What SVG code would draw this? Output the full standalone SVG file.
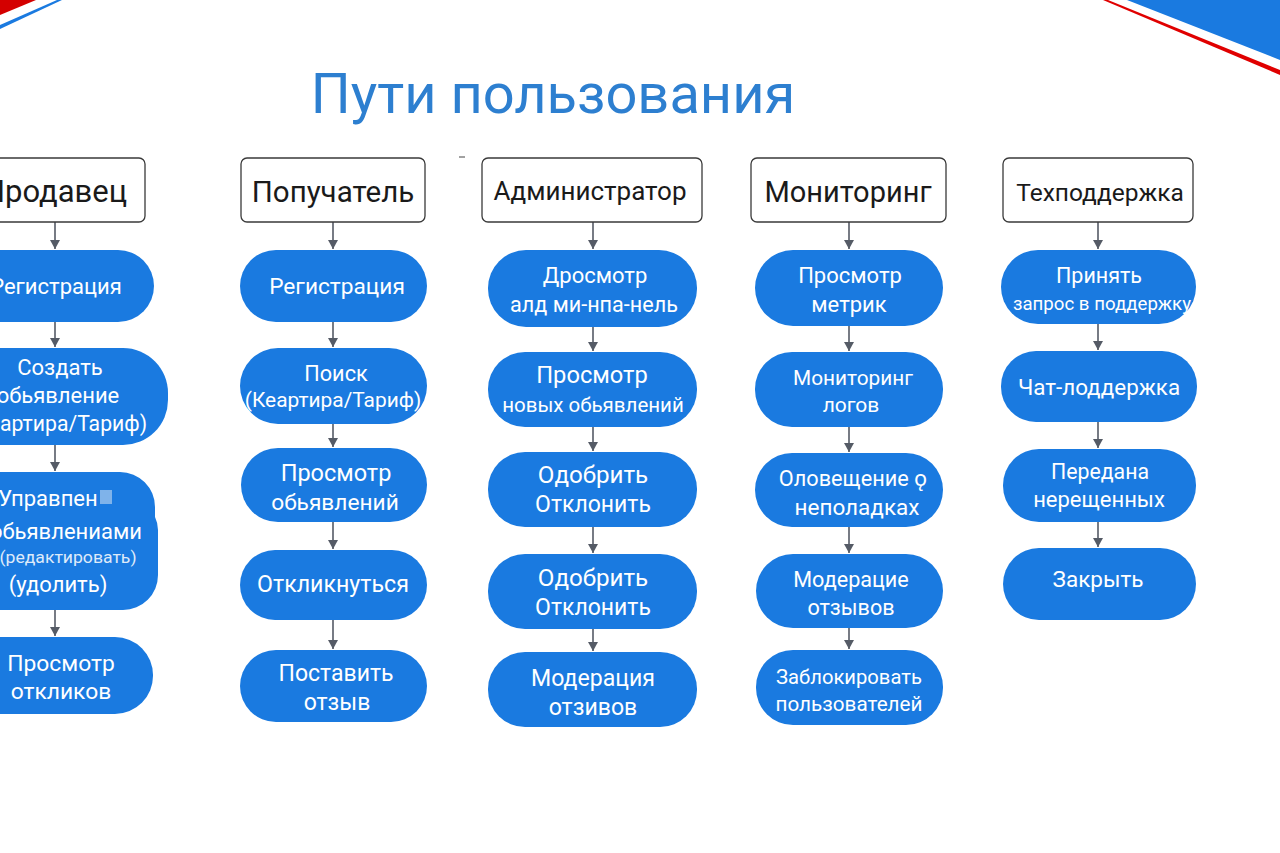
<svg xmlns="http://www.w3.org/2000/svg" width="1280" height="853" viewBox="0 0 1280 853">
<defs>
<marker id="ah" markerWidth="10" markerHeight="10" refX="9" refY="5" orient="auto" markerUnits="userSpaceOnUse">
<path d="M0,0 L9,5 L0,10 Z" fill="#555b66"/>
</marker>
<style>
.hdr{fill:#fff;stroke:#3a3a3a;stroke-width:1.3}
.ht{font-family:Roboto,"Noto Sans","Liberation Sans",sans-serif;fill:#1a1a1a;text-anchor:middle}
.nd{fill:#1a7ae0}
.nt{font-family:Roboto,"Noto Sans","Liberation Sans",sans-serif;fill:#fff;text-anchor:middle}
.cn line{stroke:#555b66;stroke-width:1.6;marker-end:url(#ah)}
</style>
</defs>
<rect width="1280" height="853" fill="#fff"/>
<!-- corner decorations -->
<polygon points="0,0 36,0 0,15" fill="#d40000"/>
<polygon points="57,0 62,0 0,29 0,25" fill="#1a7ae0"/>
<polygon points="1127,0 1280,0 1280,60" fill="#1a7ae0"/>
<polygon points="1103,0 1108,0 1280,70 1280,75" fill="#e00000"/>
<text x="553" y="113" font-family="Roboto,'Noto Sans','Liberation Sans',sans-serif" font-size="56" fill="#2d7fd0" text-anchor="middle">Пути пользования</text>
<line x1="459" y1="157" x2="465" y2="157" stroke="#444" stroke-width="1"/>

<g class="cn">
<line x1="55" y1="222" x2="55" y2="249"/>
<line x1="55" y1="322" x2="55" y2="347"/>
<line x1="55" y1="445" x2="55" y2="471"/>
<line x1="55" y1="610" x2="55" y2="636"/>
<line x1="333" y1="222" x2="333" y2="249"/>
<line x1="333" y1="322" x2="333" y2="347"/>
<line x1="333" y1="424" x2="333" y2="447"/>
<line x1="333" y1="522" x2="333" y2="549"/>
<line x1="333" y1="620" x2="333" y2="649"/>
<line x1="593" y1="222" x2="593" y2="249"/>
<line x1="593" y1="327" x2="593" y2="351"/>
<line x1="593" y1="427" x2="593" y2="451"/>
<line x1="593" y1="527" x2="593" y2="553"/>
<line x1="593" y1="629" x2="593" y2="651"/>
<line x1="849" y1="222" x2="849" y2="249"/>
<line x1="849" y1="326" x2="849" y2="351"/>
<line x1="849" y1="427" x2="849" y2="452"/>
<line x1="849" y1="527" x2="849" y2="553"/>
<line x1="849" y1="628" x2="849" y2="649"/>
<line x1="1098" y1="222" x2="1098" y2="249"/>
<line x1="1098" y1="324" x2="1098" y2="350"/>
<line x1="1098" y1="422" x2="1098" y2="448"/>
<line x1="1098" y1="522" x2="1098" y2="547"/>
</g>

<!-- headers -->
<g id="h-seller"><rect class="hdr" x="-40" y="158" width="185" height="64" rx="6"/><text class="ht" x="55" y="202" font-size="31">Продавец</text></g>
<g id="h-buyer"><rect class="hdr" x="241" y="158" width="184" height="64" rx="6"/><text class="ht" x="333" y="202" font-size="29.5">Попучатель</text></g>
<g id="h-admin"><rect class="hdr" x="482" y="158" width="220" height="64" rx="6"/><text class="ht" x="590" y="200" font-size="26">Администратор</text></g>
<g id="h-mon"><rect class="hdr" x="751" y="158" width="195" height="64" rx="6"/><text class="ht" x="848" y="202" font-size="29">Мониторинг</text></g>
<g id="h-sup"><rect class="hdr" x="1003" y="158" width="190" height="64" rx="6"/><text class="ht" x="1100" y="201" font-size="24.5">Техподдержка</text></g>

<!-- column 1 -->
<g id="c1n1"><rect class="nd" x="-45" y="250" width="199" height="72" rx="36"/><text class="nt" x="56" y="294" font-size="22">Регистрация</text></g>
<g id="c1n2"><rect class="nd" x="-50" y="348" width="218" height="97" rx="45"/><text class="nt" x="60" y="375" font-size="22">Создать</text><text class="nt" x="58" y="403" font-size="22">обьявление</text><text class="nt" x="57" y="431" font-size="21.2">(Квартира/Тариф)</text></g>
<g id="c1n3"><path class="nd" d="M-40,472 H120 A35,35 0 0 1 155,507 V517 A30,30 0 0 1 158,530 V575 A35,35 0 0 1 123,610 H-40 Z"/>
<text class="nt" x="48" y="506" font-size="22">Управпен</text>
<rect x="100" y="490" width="12" height="14" fill="#7fb3ea"/>
<text class="nt" x="66" y="539" font-size="22">обьявлениами</text>
<text class="nt" x="68" y="563" font-size="16" opacity="0.85" textLength="137" lengthAdjust="spacingAndGlyphs">(редактировать)</text>
<text class="nt" x="58" y="592" font-size="22">(удолить)</text></g>
<g id="c1n4"><rect class="nd" x="-45" y="637" width="198" height="77" rx="38"/><text class="nt" x="61" y="671" font-size="22.8">Просмотр</text><text class="nt" x="61" y="699" font-size="22.8">откликов</text></g>

<!-- column 2 -->
<g id="c2n1"><rect class="nd" x="240" y="250" width="187" height="72" rx="36"/><text class="nt" x="337" y="294" font-size="22.7">Регистрация</text></g>
<g id="c2n2"><rect class="nd" x="240" y="348" width="187" height="76" rx="38"/><text class="nt" x="336" y="381" font-size="21.7">Поиск</text><text class="nt" x="333" y="407" font-size="20.9">(Кеартира/Тариф)</text></g>
<g id="c2n3"><rect class="nd" x="241" y="448" width="186" height="74" rx="37"/><text class="nt" x="336" y="481" font-size="23.5">Просмотр</text><text class="nt" x="335" y="510" font-size="22.7">обьявлений</text></g>
<g id="c2n4"><rect class="nd" x="240" y="550" width="187" height="70" rx="35"/><text class="nt" x="333" y="592" font-size="23.2">Откликнуться</text></g>
<g id="c2n5"><rect class="nd" x="240" y="650" width="187" height="72" rx="36"/><text class="nt" x="336" y="681" font-size="23">Поставить</text><text class="nt" x="337" y="710" font-size="23">отзыв</text></g>

<!-- column 3 -->
<g id="c3n1"><rect class="nd" x="488" y="250" width="209" height="77" rx="38"/><text class="nt" x="595" y="283" font-size="22">Дросмотр</text><text class="nt" x="594" y="312" font-size="21.6">алд ми-нпа-нель</text></g>
<g id="c3n2"><rect class="nd" x="488" y="352" width="209" height="75" rx="37"/><text class="nt" x="592" y="383" font-size="23.7">Просмотр</text><text class="nt" x="593" y="412" font-size="20.5">новых обьявлений</text></g>
<g id="c3n3"><rect class="nd" x="488" y="452" width="209" height="75" rx="37"/><text class="nt" x="593" y="483" font-size="24.2">Одобрить</text><text class="nt" x="593" y="512" font-size="23">Отклонить</text></g>
<g id="c3n4"><rect class="nd" x="488" y="554" width="209" height="75" rx="37"/><text class="nt" x="593" y="586" font-size="24.2">Одобрить</text><text class="nt" x="593" y="615" font-size="23">Отклонить</text></g>
<g id="c3n5"><rect class="nd" x="488" y="652" width="209" height="75" rx="37"/><text class="nt" x="593" y="686" font-size="23.1">Модерация</text><text class="nt" x="593" y="715" font-size="23.1">отзивов</text></g>

<!-- column 4 -->
<g id="c4n1"><rect class="nd" x="755" y="250" width="188" height="76" rx="38"/><text class="nt" x="850" y="283" font-size="22">Просмотр</text><text class="nt" x="849" y="312" font-size="22">метрик</text></g>
<g id="c4n2"><rect class="nd" x="755" y="352" width="188" height="75" rx="37"/><text class="nt" x="853" y="385" font-size="20.8">Мониторинг</text><text class="nt" x="851" y="412" font-size="21">логов</text></g>
<g id="c4n3"><rect class="nd" x="755" y="453" width="188" height="74" rx="37"/><text class="nt" x="853" y="486" font-size="21.7">Оловещение ǫ</text><text class="nt" x="857" y="515" font-size="22.5">неполадках</text></g>
<g id="c4n4"><rect class="nd" x="756" y="554" width="187" height="74" rx="37"/><text class="nt" x="851" y="587" font-size="21.6">Модерацие</text><text class="nt" x="851" y="615" font-size="21.6">отзывов</text></g>
<g id="c4n5"><rect class="nd" x="756" y="650" width="187" height="75" rx="37"/><text class="nt" x="849" y="684" font-size="20.2">Заблокировать</text><text class="nt" x="849" y="711" font-size="20.7">пользователей</text></g>

<!-- column 5 -->
<g id="c5n1"><rect class="nd" x="1001" y="250" width="195" height="74" rx="37"/><text class="nt" x="1099" y="283" font-size="21.5">Принять</text><text class="nt" x="1102" y="310" font-size="19" textLength="178" lengthAdjust="spacingAndGlyphs">запрос в поддержку</text></g>
<g id="c5n2"><rect class="nd" x="1001" y="351" width="196" height="71" rx="35"/><text class="nt" x="1099" y="395" font-size="22.4">Чат-лоддержка</text></g>
<g id="c5n3"><rect class="nd" x="1003" y="449" width="193" height="73" rx="36"/><text class="nt" x="1100" y="479" font-size="21.3">Передана</text><text class="nt" x="1099" y="507" font-size="22">нерещенных</text></g>
<g id="c5n4"><rect class="nd" x="1003" y="548" width="193" height="72" rx="36"/><text class="nt" x="1098" y="587" font-size="22.5">Закрыть</text></g>
</svg>
